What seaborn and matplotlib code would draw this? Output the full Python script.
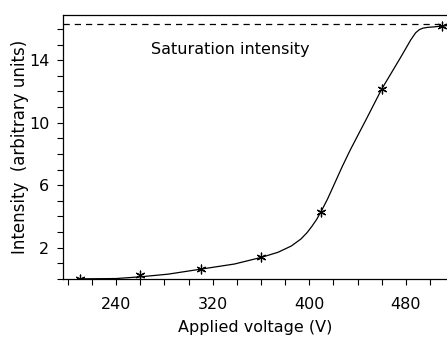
import numpy as np
import pandas as pd
import matplotlib.pyplot as plt
import seaborn as sns
from matplotlib.ticker import MultipleLocator, FixedLocator

# pontos medidos (asteriscos)
voltagem = [210, 260, 310, 360, 410, 460, 510]
intensidade = [0.0, 0.27, 0.62, 1.37, 4.31, 12.16, 16.2]

# curva desenhada a mão
curva_v = [210, 240, 260, 283, 310, 338, 360, 374, 385, 393, 398, 402, 406, 410, 415, 420,
           427, 434, 447, 460, 475, 484, 488, 491, 494, 498, 503, 512, 516]
curva_i = [0.0, 0.02, 0.13, 0.3, 0.62, 0.95, 1.37, 1.7, 2.1, 2.55, 2.95, 3.35, 3.8, 4.35, 5.1, 5.95,
           7.15, 8.27, 10.2, 12.16, 14.1, 15.3, 15.75, 15.95, 16.05, 16.1, 16.13, 16.2, 16.22]

saturacao = 16.3

sns.set_style("ticks")
plt.rcParams['font.family'] = ['DejaVu Sans']
plt.rcParams['text.color'] = 'black'
plt.rcParams['axes.labelcolor'] = 'black'
plt.rcParams['xtick.color'] = 'black'
plt.rcParams['ytick.color'] = 'black'

fig = plt.figure(figsize=(4.47, 3.38), dpi=100)
ax = fig.add_axes([0.141, 0.175, 0.859, 0.781])

df_curva = pd.DataFrame({'V': curva_v, 'I': curva_i})
df_pontos = pd.DataFrame({'V': voltagem, 'I': intensidade})

sns.lineplot(data=df_curva, x='V', y='I', color='black', linewidth=0.9, ax=ax)
sns.scatterplot(data=df_pontos, x='V', y='I', marker=(6, 2, 0), s=40,
                color='black', linewidth=0.9, ax=ax, zorder=3)
ax.axhline(saturacao, color='black', linestyle=(0, (5, 4)), linewidth=0.9)

ax.text(269, 14.7, 'Saturation intensity', fontsize=11.5, va='center', ha='left')

ax.set_xlim(196, 514)
ax.set_ylim(0, 16.9)
ax.xaxis.set_major_locator(FixedLocator([240, 320, 400, 480]))
ax.xaxis.set_minor_locator(MultipleLocator(20))
ax.yaxis.set_major_locator(FixedLocator([2, 6, 10, 14]))
ax.yaxis.set_minor_locator(MultipleLocator(1))
ax.tick_params(which='both', direction='out', length=4, width=0.8, labelsize=11.5)
ax.tick_params(axis='x', pad=9)
ax.tick_params(axis='y', pad=6)

for s in ['left', 'bottom', 'top']:
    ax.spines[s].set_linewidth(0.9)
    ax.spines[s].set_color('black')
ax.spines['right'].set_visible(False)

ax.set_xlabel('Applied voltage (V)', fontsize=11.5, labelpad=6)
ax.set_ylabel('Intensity  (arbitrary units)', fontsize=12, labelpad=0)

fig.savefig('out.png', dpi=100)
